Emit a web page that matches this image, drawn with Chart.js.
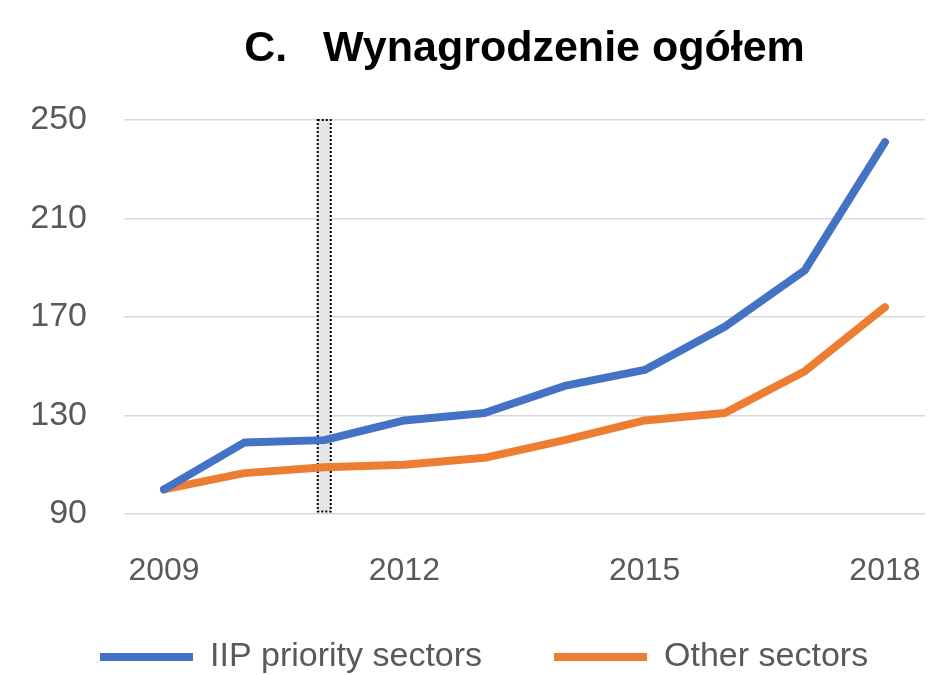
<!DOCTYPE html>
<html>
<head>
<meta charset="utf-8">
<script src="https://cdn.jsdelivr.net/npm/chart.js@4"></script>
<style>
  html, body { margin: 0; padding: 0; background: #fff; overflow: hidden; }
  #wrap { width: 930px; height: 740px; }
</style>
</head>
<body>
<div id="wrap"><canvas id="chart"></canvas></div>
<script>
const years = ['2009', '2010', '2011', '2012', '2013', '2014', '2015', '2016', '2017', '2018'];
const iipPriority = [100, 119, 120, 128, 131, 142, 148.5, 166, 189, 241];
const otherSectors = [100, 106.6, 109, 110, 112.8, 120, 128, 131, 148, 174];
const markerBox = [null, null, [91, 250], null, null, null, null, null, null, null];
const xTickLabels = ['2009', '2012', '2015', '2018'];
const yTicks = [90, 130, 170, 210, 250];
const chartTitle = 'C.   Wynagrodzenie ogółem';

// title centred over the plot area, like the Excel original
const titlePlugin = {
    id: 'plotTitle',
    afterDraw(chart) {
        const ctx = chart.ctx;
        const area = chart.chartArea;
        ctx.save();
        ctx.font = 'bold 43px "Liberation Sans"';
        ctx.fillStyle = '#000';
        ctx.textAlign = 'center';
        ctx.textBaseline = 'alphabetic';
        ctx.fillText(chartTitle, (area.left + area.right) / 2, 61);
        ctx.restore();
    }
};

// dotted outline around the shaded marker bar
const dottedBox = {
    id: 'dottedBox',
    afterDatasetDraw(chart, args) {
        if (args.index !== 2) return;
        const ctx = chart.ctx;
        args.meta.data.forEach((bar, i) => {
            if (markerBox[i] == null) return;
            const w = bar.width;
            ctx.save();
            ctx.strokeStyle = '#000';
            ctx.lineWidth = 2;
            ctx.setLineDash([2, 2]);
            ctx.strokeRect(bar.x - w / 2, bar.y, w, bar.base - bar.y);
            ctx.restore();
        });
    }
};

// put the legend row where the original has it (starts at x=100, centre y=657)
const legendPlace = {
    id: 'legendPlace',
    afterLayout(chart) {
        const lg = chart.legend;
        const pad = lg.options.labels.padding;
        const dx = (100 - pad) - lg.left;
        lg.left += dx;
        lg.right += dx;
        lg.top = 657 - pad - lg.options.labels.font.size / 2;
    }
};

new Chart(document.getElementById('chart'), {
    type: 'line',
    data: {
        labels: years,
        datasets: [
            {
                label: 'IIP priority sectors',
                data: iipPriority,
                borderColor: '#4472C4',
                backgroundColor: '#4472C4',
                borderWidth: 8,
                borderCapStyle: 'round',
                borderJoinStyle: 'round',
                pointRadius: 0,
                tension: 0,
                order: 1
            },
            {
                label: 'Other sectors',
                data: otherSectors,
                borderColor: '#ED7D31',
                backgroundColor: '#ED7D31',
                borderWidth: 8,
                borderCapStyle: 'round',
                borderJoinStyle: 'round',
                pointRadius: 0,
                tension: 0,
                order: 2
            },
            {
                type: 'bar',
                label: 'marker',
                data: markerBox,
                backgroundColor: '#e7e7e7',
                borderWidth: 0,
                barThickness: 13,
                grouped: false,
                order: 3
            }
        ]
    },
    options: {
        responsive: true,
        maintainAspectRatio: false,
        animation: false,
        layout: { padding: { top: 120, right: 5, left: 0, bottom: 0 } },
        plugins: {
            title: { display: false },
            tooltip: { enabled: false },
            legend: {
                position: 'bottom',
                align: 'start',
                labels: {
                    filter: item => item.text !== 'marker',
                    usePointStyle: true,
                    pointStyle: 'line',
                    pointStyleWidth: 93,
                    padding: 72,
                    color: '#595959',
                    font: { family: '"Liberation Sans"', size: 34 }
                }
            }
        },
        scales: {
            x: {
                offset: true,
                grid: { display: false, drawTicks: false },
                border: { display: false },
                ticks: {
                    autoSkip: false,
                    maxRotation: 0,
                    padding: 38,
                    color: '#595959',
                    font: { family: '"Liberation Sans"', size: 32 },
                    callback: function(value) {
                        const lbl = this.getLabelForValue(value);
                        return xTickLabels.includes(lbl) ? lbl : '';
                    }
                },
                afterFit: scale => {
                    scale.height = 110;
                    scale.paddingLeft = 0;
                    scale.paddingRight = 0;
                }
            },
            y: {
                min: 90,
                max: 250,
                afterBuildTicks: scale => { scale.ticks = yTicks.map(v => ({ value: v })); },
                grid: { color: '#d9d9d9', lineWidth: 1.5, drawTicks: false },
                border: { display: false },
                ticks: {
                    padding: 37,
                    color: '#595959',
                    font: { family: '"Liberation Sans"', size: 34 }
                },
                afterFit: scale => { scale.width = 124; }
            }
        }
    },
    plugins: [titlePlugin, dottedBox, legendPlace]
});
</script>
</body>
</html>
